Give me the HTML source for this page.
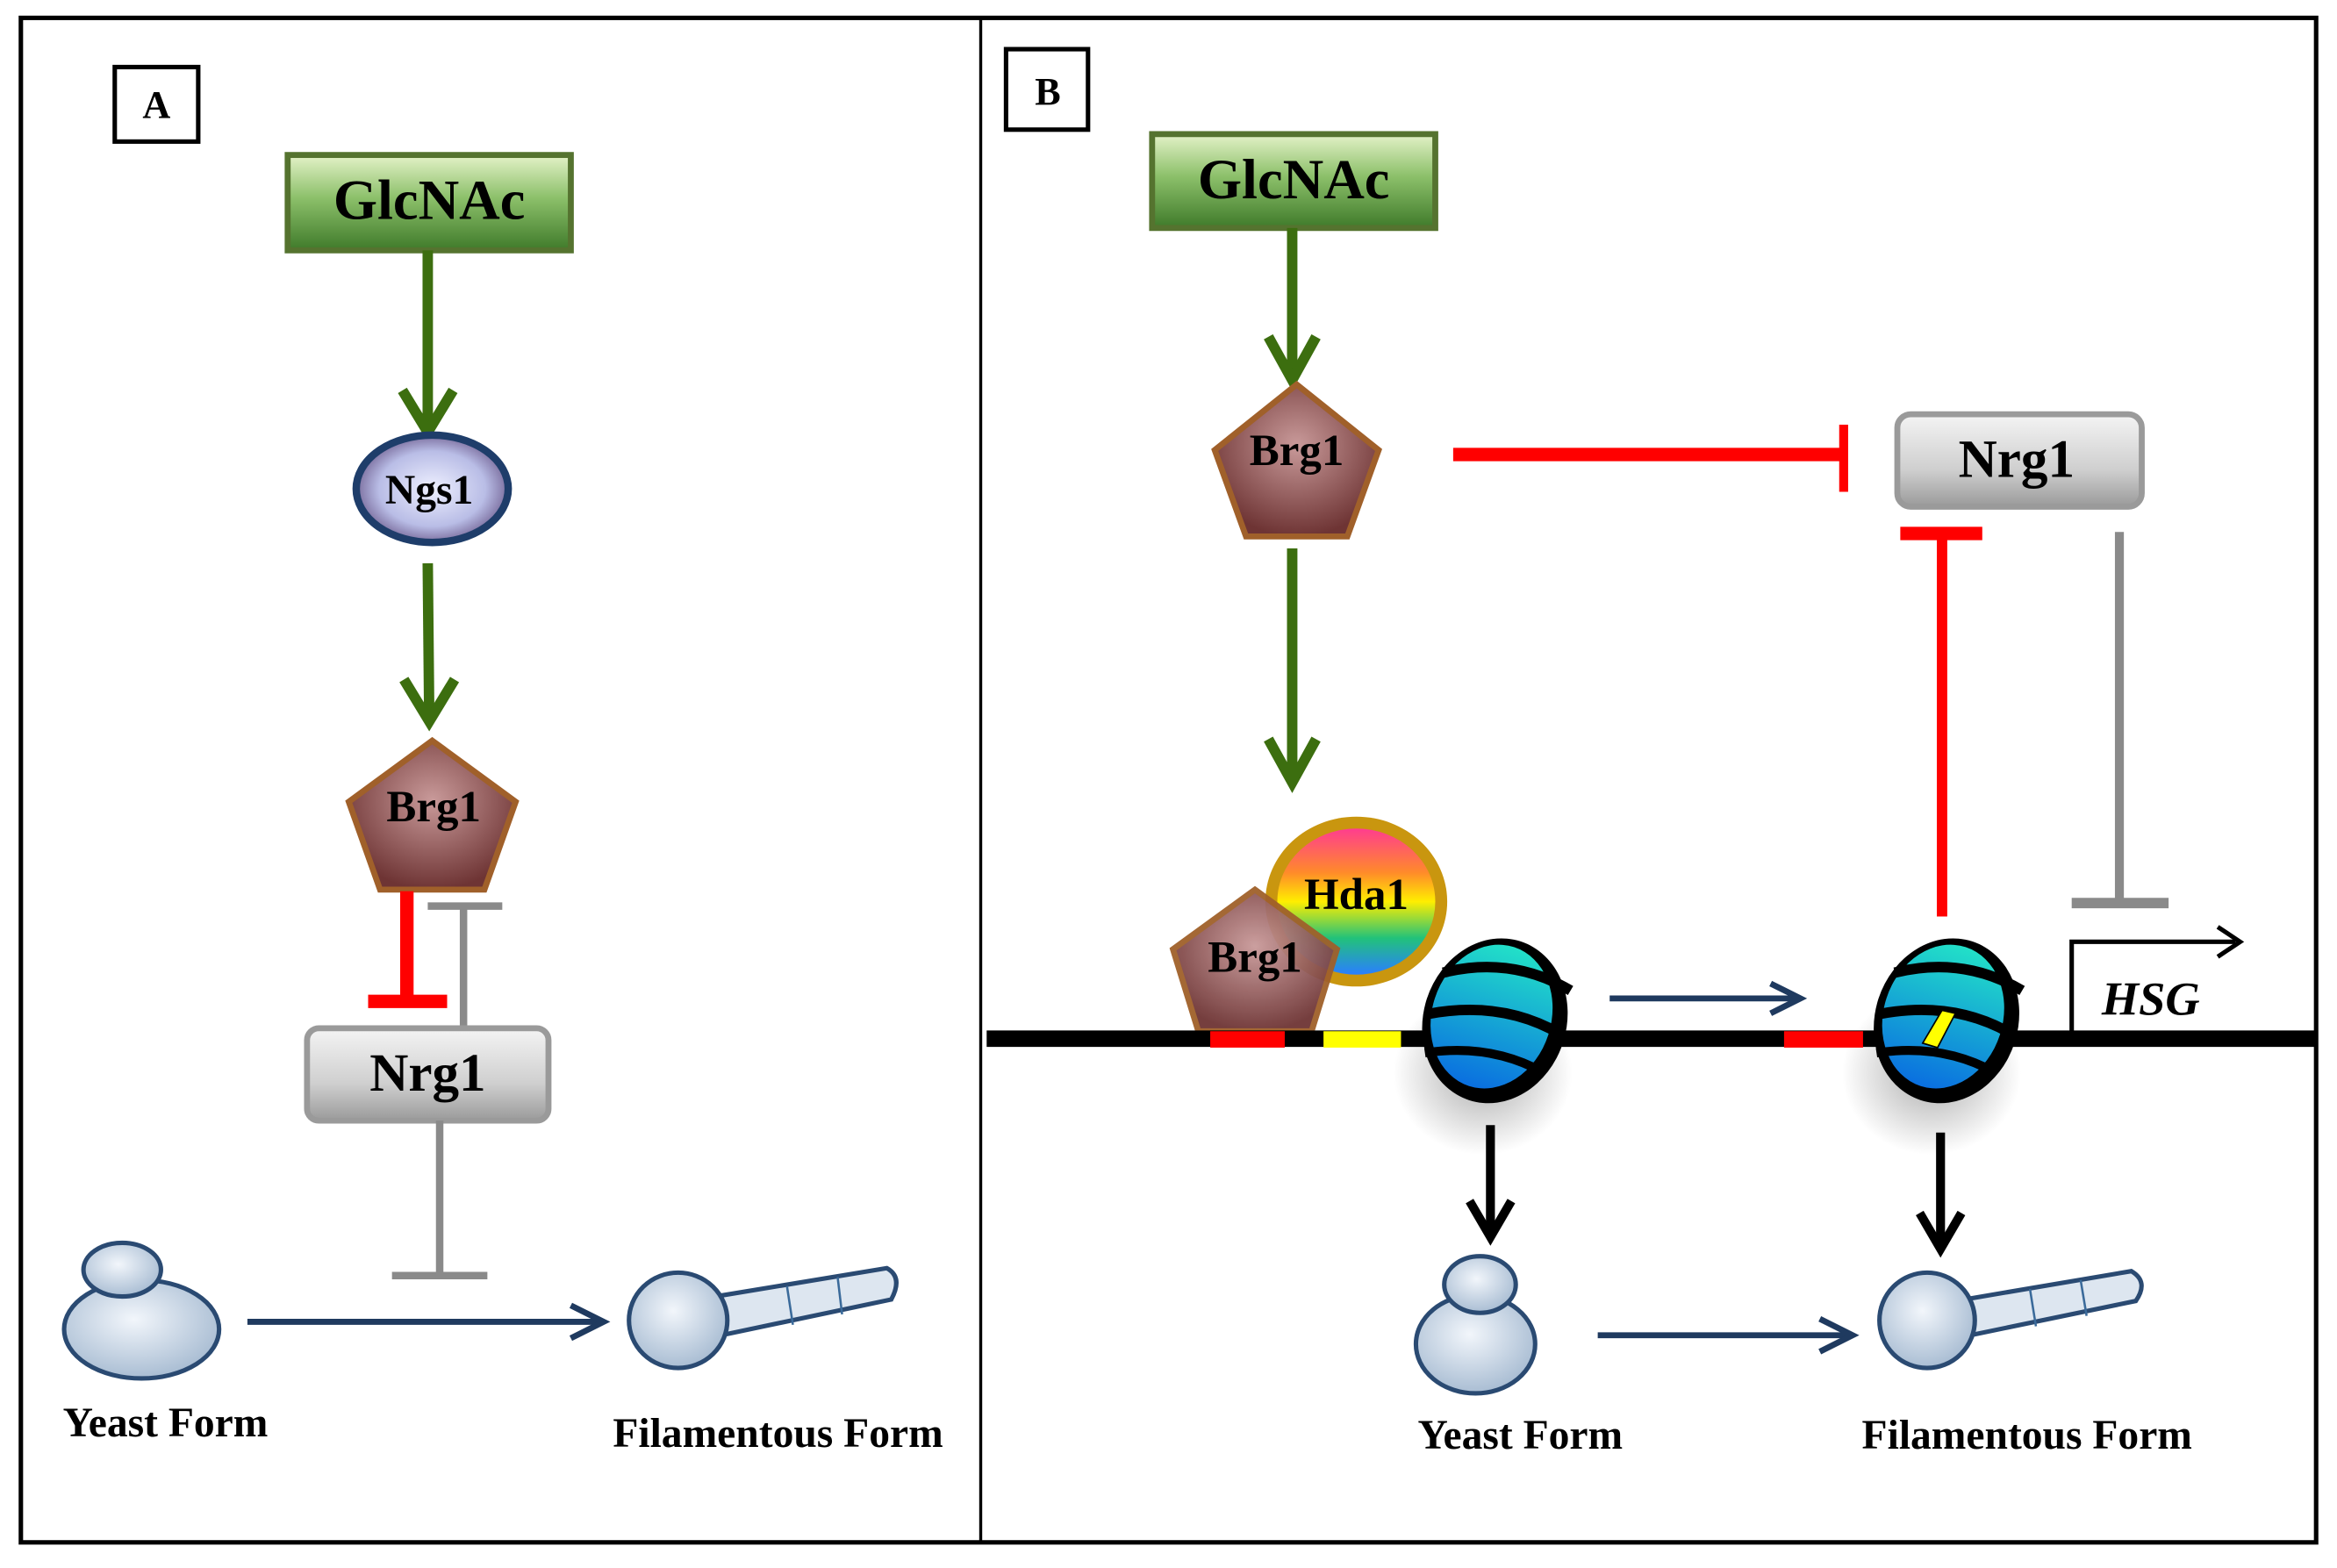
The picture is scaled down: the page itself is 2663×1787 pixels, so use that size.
<!DOCTYPE html>
<html><head><meta charset="utf-8"><style>
html,body{margin:0;padding:0;background:#fff;}
svg{display:block;}
text{font-family:"Liberation Serif",serif;font-weight:bold;fill:#000;}
</style></head><body>
<svg width="2663" height="1787" viewBox="0 0 1568 1052.2" preserveAspectRatio="none" xmlns="http://www.w3.org/2000/svg">
<defs>
<linearGradient id="grn" x1="0" y1="0" x2="0" y2="1"><stop offset="0" stop-color="#e4f2c8"/><stop offset="0.45" stop-color="#8cc06a"/><stop offset="1" stop-color="#3f7a2a"/></linearGradient>
<radialGradient id="brg" cx="0.5" cy="0.4" r="0.6"><stop offset="0" stop-color="#c99a9a"/><stop offset="1" stop-color="#6e3434"/></radialGradient>
<linearGradient id="gry" x1="0" y1="0" x2="0" y2="1"><stop offset="0" stop-color="#f4f4f4"/><stop offset="0.6" stop-color="#cfcfcf"/><stop offset="1" stop-color="#9a9a9a"/></linearGradient>
<radialGradient id="ngs" cx="0.5" cy="0.5" r="0.5"><stop offset="0" stop-color="#eef0ff"/><stop offset="0.7" stop-color="#b9bde6"/><stop offset="1" stop-color="#7b6e9e"/></radialGradient>
<linearGradient id="rain" x1="0" y1="0" x2="0" y2="1"><stop offset="0" stop-color="#ff3d8e"/><stop offset="0.3" stop-color="#ff8a2a"/><stop offset="0.5" stop-color="#ffee00"/><stop offset="0.75" stop-color="#22c27a"/><stop offset="1" stop-color="#2a7fff"/></linearGradient>
<linearGradient id="nuc" x1="0" y1="0" x2="0" y2="1"><stop offset="0" stop-color="#22e0c8"/><stop offset="1" stop-color="#0a6fe0"/></linearGradient>
<radialGradient id="cell" cx="0.45" cy="0.4" r="0.6"><stop offset="0" stop-color="#f2f6fb"/><stop offset="1" stop-color="#a9bdd3"/></radialGradient>
<radialGradient id="shad" cx="0.5" cy="0.5" r="0.5"><stop offset="0" stop-color="#888" stop-opacity="0.7"/><stop offset="1" stop-color="#888" stop-opacity="0"/></radialGradient>
</defs>
<rect x="0" y="0" width="1568" height="1053" fill="#fff"/>
<rect x="14" y="12" width="1540" height="1023" fill="none" stroke="#000" stroke-width="3"/>
<line x1="658" y1="12" x2="658" y2="1035" stroke="#000" stroke-width="2"/>

<!-- Panel A -->
<rect x="77" y="45" width="56" height="50" fill="#fff" stroke="#000" stroke-width="3"/>
<text x="105" y="79" font-size="26" text-anchor="middle">A</text>
<rect x="193" y="104" width="190" height="64" fill="url(#grn)" stroke="#55732f" stroke-width="4"/>
<text x="288" y="147" font-size="38" text-anchor="middle">GlcNAc</text>
<line x1="287" y1="168" x2="287" y2="288" stroke="#3c6e0f" stroke-width="7"/>
<polyline points="270,262 287,290 304,262" fill="none" stroke="#3c6e0f" stroke-width="7"/>
<ellipse cx="290" cy="328" rx="51" ry="36" fill="url(#ngs)" stroke="#1e3d6a" stroke-width="5"/>
<text x="288" y="338" font-size="28" text-anchor="middle">Ngs1</text>
<line x1="287" y1="378" x2="288" y2="483" stroke="#3c6e0f" stroke-width="7"/>
<polyline points="271,456 288,484 305,456" fill="none" stroke="#3c6e0f" stroke-width="7"/>
<polygon points="290,497 346,538 325,597 255,597 234,538" fill="url(#brg)" stroke="#a0602a" stroke-width="4"/>
<text x="291" y="551" font-size="30" text-anchor="middle">Brg1</text>
<line x1="273" y1="598" x2="273" y2="670" stroke="#f00" stroke-width="9"/>
<line x1="247" y1="672" x2="300" y2="672" stroke="#f00" stroke-width="9"/>
<line x1="311" y1="608" x2="311" y2="688" stroke="#8a8a8a" stroke-width="5"/>
<line x1="287" y1="608" x2="337" y2="608" stroke="#8a8a8a" stroke-width="5"/>
<rect x="206" y="690" width="162" height="62" rx="8" fill="url(#gry)" stroke="#9a9a9a" stroke-width="4"/>
<text x="287" y="732" font-size="36" text-anchor="middle">Nrg1</text>
<line x1="295" y1="752" x2="295" y2="856" stroke="#8a8a8a" stroke-width="5"/>
<line x1="263" y1="856" x2="327" y2="856" stroke="#8a8a8a" stroke-width="5"/>
<ellipse cx="95" cy="892" rx="52" ry="33" fill="url(#cell)" stroke="#2a4a72" stroke-width="3"/>
<ellipse cx="82" cy="852" rx="26" ry="18" fill="url(#cell)" stroke="#2a4a72" stroke-width="3"/>
<line x1="166" y1="887" x2="404" y2="887" stroke="#1f3a5f" stroke-width="4"/>
<polyline points="383,876 405,887 383,898" fill="none" stroke="#1f3a5f" stroke-width="4"/>
<path d="M480,870 L595,851 Q606,857 598,872 L484,896 Z" fill="#dde6f0" stroke="#2a4a72" stroke-width="3"/>
<line x1="528" y1="863" x2="532" y2="889" stroke="#3a6a9a" stroke-width="1.5"/>
<line x1="562" y1="857" x2="565" y2="882" stroke="#3a6a9a" stroke-width="1.5"/>
<ellipse cx="455" cy="886" rx="33" ry="32" fill="url(#cell)" stroke="#2a4a72" stroke-width="3"/>
<text x="111" y="964" font-size="28" text-anchor="middle">Yeast Form</text>
<text x="522" y="971" font-size="28" text-anchor="middle">Filamentous Form</text>

<!-- Panel B -->
<rect x="675" y="33" width="55" height="54" fill="#fff" stroke="#000" stroke-width="3"/>
<text x="703" y="70" font-size="26" text-anchor="middle">B</text>
<rect x="773" y="90" width="190" height="63" fill="url(#grn)" stroke="#55732f" stroke-width="4"/>
<text x="868" y="133" font-size="38" text-anchor="middle">GlcNAc</text>
<line x1="867" y1="153" x2="867" y2="253" stroke="#3c6e0f" stroke-width="7"/>
<polyline points="851,226 867,255 883,226" fill="none" stroke="#3c6e0f" stroke-width="7"/>
<polygon points="870,258 925,302 904,360 836,360 815,302" fill="url(#brg)" stroke="#a0602a" stroke-width="4"/>
<text x="870" y="312" font-size="30" text-anchor="middle">Brg1</text>
<line x1="975" y1="305" x2="1235" y2="305" stroke="#f00" stroke-width="9"/>
<line x1="1237" y1="285" x2="1237" y2="330" stroke="#f00" stroke-width="6"/>
<rect x="1273" y="278" width="164" height="62" rx="9" fill="url(#gry)" stroke="#9a9a9a" stroke-width="4"/>
<text x="1353" y="320" font-size="36" text-anchor="middle">Nrg1</text>
<line x1="867" y1="368" x2="867" y2="523" stroke="#3c6e0f" stroke-width="7"/>
<polyline points="851,496 867,525 883,496" fill="none" stroke="#3c6e0f" stroke-width="7"/>
<line x1="1303" y1="615" x2="1303" y2="360" stroke="#f00" stroke-width="7"/>
<line x1="1275" y1="358" x2="1330" y2="358" stroke="#f00" stroke-width="9"/>
<line x1="1422" y1="357" x2="1422" y2="604" stroke="#8a8a8a" stroke-width="6"/>
<line x1="1390" y1="606" x2="1455" y2="606" stroke="#8a8a8a" stroke-width="7"/>
<!-- Hda1 + Brg1 -->
<ellipse cx="910" cy="605" rx="61" ry="57" fill="#c9960f"/>
<ellipse cx="910" cy="605" rx="53" ry="49" fill="url(#rain)"/>
<text x="910" y="610" font-size="30" text-anchor="middle">Hda1</text>
<polygon points="842,597 897,637 880,692 804,692 787,637" fill="url(#brg)" stroke="#a0602a" stroke-width="4" opacity="0.95"/>
<text x="842" y="652" font-size="30" text-anchor="middle">Brg1</text>
<!-- shadows -->
<ellipse cx="995" cy="720" rx="60" ry="55" fill="url(#shad)"/>
<ellipse cx="1296" cy="720" rx="60" ry="55" fill="url(#shad)"/>
<!-- DNA -->
<line x1="662" y1="697" x2="1554" y2="697" stroke="#000" stroke-width="11"/>
<rect x="812" y="692" width="50" height="11" fill="#f00"/>
<rect x="888" y="692" width="52" height="11" fill="#ff0"/>
<rect x="1197" y="692" width="53" height="11" fill="#f00"/>
<!-- nucleosomes -->
<g transform="rotate(18 1003 685)">
<ellipse cx="1003" cy="685" rx="48" ry="56" fill="#000"/>
<ellipse cx="1000" cy="683" rx="40" ry="49" fill="url(#nuc)"/>
<path d="M960,665 Q1000,640 1045,650" stroke="#000" stroke-width="7" fill="none"/>
<path d="M958,695 Q1003,670 1048,680" stroke="#000" stroke-width="7" fill="none"/>
<path d="M965,720 Q1005,700 1045,708" stroke="#000" stroke-width="6" fill="none"/>
</g>
<g transform="rotate(18 1306 685)">
<ellipse cx="1306" cy="685" rx="48" ry="56" fill="#000"/>
<ellipse cx="1303" cy="683" rx="40" ry="49" fill="url(#nuc)"/>
<path d="M1263,665 Q1303,640 1348,650" stroke="#000" stroke-width="7" fill="none"/>
<path d="M1261,695 Q1306,670 1351,680" stroke="#000" stroke-width="7" fill="none"/>
<path d="M1268,720 Q1308,700 1348,708" stroke="#000" stroke-width="6" fill="none"/>
</g>
<polygon points="1290,700 1303,678 1312,680 1300,703" fill="#ff0" stroke="#000" stroke-width="1"/>
<line x1="1080" y1="670" x2="1207" y2="670" stroke="#1f3a5f" stroke-width="4"/>
<polyline points="1188,660 1208,670 1188,680" fill="none" stroke="#1f3a5f" stroke-width="4"/>
<polyline points="1390,697 1390,632 1500,632" fill="none" stroke="#000" stroke-width="3"/>
<polyline points="1488,622 1503,632 1488,642" fill="none" stroke="#000" stroke-width="3"/>
<text x="1443" y="681" font-size="32" font-style="italic" text-anchor="middle">HSG</text>
<line x1="1000" y1="755" x2="1000" y2="828" stroke="#000" stroke-width="6"/>
<polyline points="986,806 1000,830 1014,806" fill="none" stroke="#000" stroke-width="6"/>
<line x1="1302" y1="760" x2="1302" y2="836" stroke="#000" stroke-width="6"/>
<polyline points="1288,814 1302,838 1316,814" fill="none" stroke="#000" stroke-width="6"/>
<ellipse cx="990" cy="902" rx="40" ry="33" fill="url(#cell)" stroke="#2a4a72" stroke-width="3"/>
<ellipse cx="993" cy="862" rx="24" ry="19" fill="url(#cell)" stroke="#2a4a72" stroke-width="3"/>
<line x1="1072" y1="896" x2="1242" y2="896" stroke="#1f3a5f" stroke-width="4"/>
<polyline points="1221,885 1243,896 1221,907" fill="none" stroke="#1f3a5f" stroke-width="4"/>
<path d="M1318,872 L1430,853 Q1442,860 1433,873 L1322,896 Z" fill="#dde6f0" stroke="#2a4a72" stroke-width="3"/>
<line x1="1362" y1="865" x2="1366" y2="890" stroke="#3a6a9a" stroke-width="1.5"/>
<line x1="1396" y1="859" x2="1400" y2="883" stroke="#3a6a9a" stroke-width="1.5"/>
<ellipse cx="1293" cy="886" rx="32" ry="32" fill="url(#cell)" stroke="#2a4a72" stroke-width="3"/>
<text x="1020" y="972" font-size="28" text-anchor="middle">Yeast Form</text>
<text x="1360" y="972" font-size="28" text-anchor="middle">Filamentous Form</text>
</svg>
</body></html>
